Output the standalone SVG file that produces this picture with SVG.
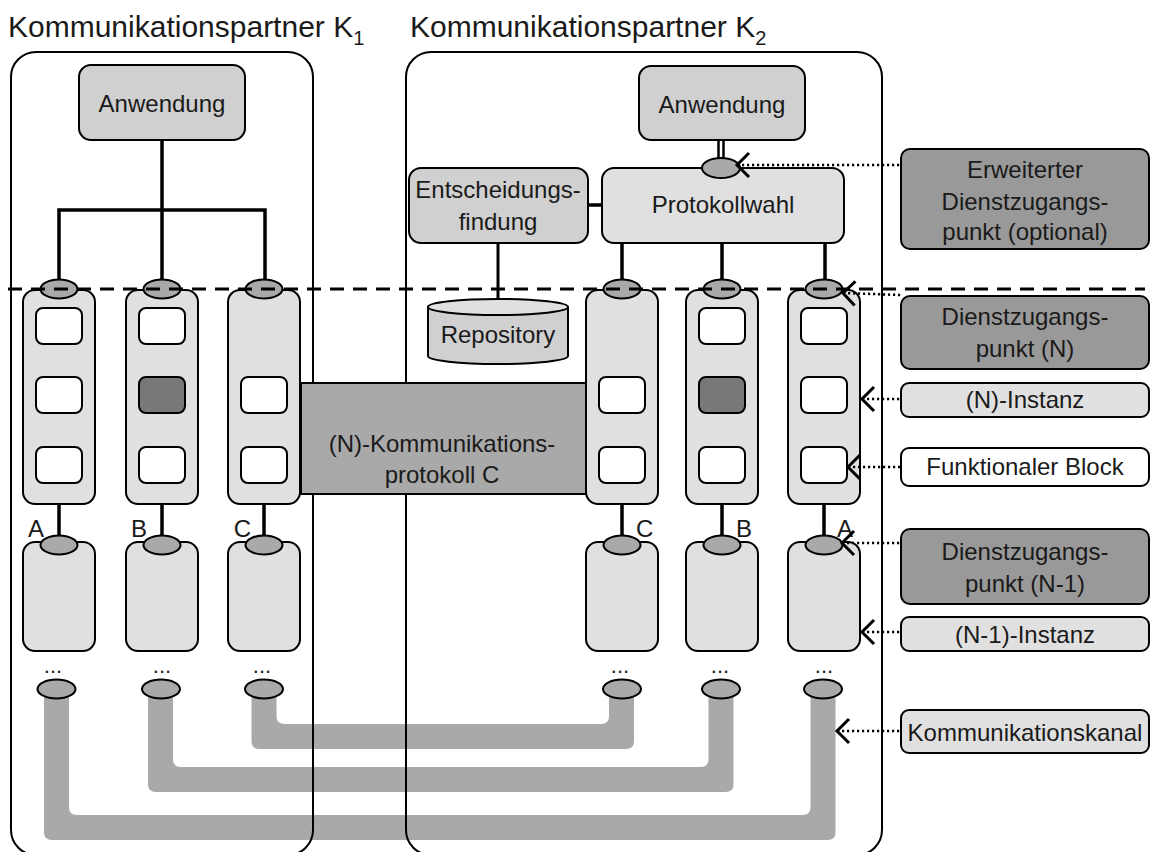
<svg xmlns="http://www.w3.org/2000/svg" width="1155" height="852" viewBox="0 0 1155 852">
<style>
text{font-family:"Liberation Sans",Arial,sans-serif;fill:#1a1a1a;font-size:24px}
.c{text-anchor:middle}
.title{font-size:30px}
.sub{font-size:20px}
.box{stroke:#000;stroke-width:2}
.inst{fill:#e0e0e0}
.fb{fill:#fff}
.dark{fill:#787878}
.sap{fill:#a9a9a9;stroke:#000;stroke-width:2}
.app{fill:#d0d0d0}
.leg{fill:#999}
.cont{fill:none;stroke:#000;stroke-width:2}
.ln{stroke:#000;stroke-width:3.5;fill:none}
.ln2{stroke:#000;stroke-width:2.5;fill:none}
.chan{fill:#a9a9a9;stroke:none}
.dot{stroke:#000;stroke-width:2.5;stroke-dasharray:2.2 2.8;fill:none;marker-start:url(#chev)}
.dash{stroke:#000;stroke-width:3;stroke-dasharray:14 9;fill:none}
</style>
<defs>
<marker id="chev" markerUnits="userSpaceOnUse" markerWidth="20" markerHeight="30" refX="0" refY="0" orient="auto" overflow="visible">
<path d="M12,-12 L0,0 L12,12" fill="none" stroke="#000" stroke-width="3"/>
</marker>
</defs>

<g id="channels">
<path class="chan" d="M44,689 V832 Q44,840 52,840 H827.5 Q835.5,840 835.5,832 V689 H810.5 V807 Q810.5,815 802.5,815 H77 Q69,815 69,807 V689 Z"/>
<path class="chan" d="M148,689 V784 Q148,792 156,792 H725.5 Q733.5,792 733.5,784 V689 H708.5 V759 Q708.5,767 700.5,767 H181 Q173,767 173,759 V689 Z"/>
<path class="chan" d="M251.5,689 V741 Q251.5,749 259.5,749 H626 Q634,749 634,741 V689 H609 V716 Q609,724 601,724 H284.5 Q276.5,724 276.5,716 V689 Z"/>
</g>

<g id="K1">
<rect class="cont" x="11" y="52" width="302" height="803" rx="25"/>
<text class="title" x="8" y="37">Kommunikationspartner K<tspan class="sub" dy="8">1</tspan></text>
</g>
<g id="K2">
<rect class="cont" x="406" y="52" width="476" height="803" rx="25"/>
<text class="title" x="410" y="37">Kommunikationspartner K<tspan class="sub" dy="8">2</tspan></text>
</g>

<g id="connectors">
<path class="ln" d="M162,140 V289 M59,289 V210 H265 V289"/>
<path class="ln" d="M59,504 V545 M162,504 V545 M264,504 V545 M622,504 V545 M722,504 V545 M824,504 V545"/>
<path class="ln2" d="M718.5,140 V165 M723.5,140 V165"/>
<path class="ln" d="M588,205 H602 M622,243 V289 M722,243 V289 M825,243 V289"/>
<path class="ln" d="M498,243 V300" style="stroke-width:3"/>
</g>

<g id="protocol">
<rect class="box" x="301" y="383" width="285" height="111" fill="#a9a9a9"/>
<text class="c" x="442" y="452">(N)-Kommunikations-</text>
<text class="c" x="442" y="483">protokoll C</text>
</g>

<g id="app1">
<rect class="box app" x="79" y="65" width="166" height="75" rx="12"/>
<text class="c" x="162" y="112">Anwendung</text>
</g>
<g id="app2">
<rect class="box app" x="639" y="66" width="166" height="74" rx="12"/>
<text class="c" x="722" y="113">Anwendung</text>
</g>
<g id="entscheidung">
<rect class="box app" x="409" y="168" width="179" height="75" rx="12"/>
<text class="c" x="498" y="198">Entscheidungs-</text>
<text class="c" x="498" y="230">findung</text>
</g>
<g id="protokollwahl">
<rect class="box inst" x="602" y="168" width="242" height="75" rx="12"/>
<text class="c" x="723" y="213">Protokollwahl</text>
<ellipse class="sap" cx="721" cy="168" rx="19" ry="10"/>
</g>
<g id="repository">
<path class="box" d="M428,307 V356 A70,8 0 0 0 568,356 V307 Z" fill="#d0d0d0"/>
<ellipse class="box" cx="498" cy="307" rx="70" ry="8" fill="#e0e0e0"/>
<text class="c" x="498" y="343">Repository</text>
</g>

<!-- K1 columns -->
<g id="k1-colA">
<rect class="box inst" x="23" y="290" width="72" height="214" rx="12"/>
<rect class="box fb" x="36" y="308" width="46" height="36" rx="7"/>
<rect class="box fb" x="36" y="377" width="46" height="36" rx="7"/>
<rect class="box fb" x="36" y="447" width="46" height="36" rx="7"/>
<ellipse class="sap" cx="59" cy="289" rx="18.5" ry="9.5"/>
<rect class="box inst" x="23" y="542" width="72" height="109" rx="12"/>
<ellipse class="sap" cx="59" cy="545" rx="18.5" ry="9.5"/>
<text x="44" y="537" text-anchor="end">A</text>
<text class="c" x="53" y="673" style="font-size:22px">...</text>
<ellipse class="sap" cx="56.5" cy="689" rx="19" ry="9.5"/>
</g>
<g id="k1-colB">
<rect class="box inst" x="126" y="290" width="72" height="214" rx="12"/>
<rect class="box fb" x="139" y="308" width="46" height="36" rx="7"/>
<rect class="box dark" x="139" y="377" width="46" height="36" rx="7"/>
<rect class="box fb" x="139" y="447" width="46" height="36" rx="7"/>
<ellipse class="sap" cx="162" cy="289" rx="18.5" ry="9.5"/>
<rect class="box inst" x="126" y="542" width="72" height="109" rx="12"/>
<ellipse class="sap" cx="162" cy="545" rx="18.5" ry="9.5"/>
<text x="147" y="537" text-anchor="end">B</text>
<text class="c" x="162" y="673" style="font-size:22px">...</text>
<ellipse class="sap" cx="161" cy="689" rx="19" ry="9.5"/>
</g>
<g id="k1-colC">
<rect class="box inst" x="228" y="290" width="72" height="214" rx="12"/>
<rect class="box fb" x="241" y="377" width="46" height="36" rx="7"/>
<rect class="box fb" x="241" y="447" width="46" height="36" rx="7"/>
<ellipse class="sap" cx="264" cy="289" rx="18.5" ry="9.5"/>
<rect class="box inst" x="228" y="542" width="72" height="109" rx="12"/>
<ellipse class="sap" cx="264" cy="545" rx="18.5" ry="9.5"/>
<text x="251" y="537" text-anchor="end">C</text>
<text class="c" x="262" y="673" style="font-size:22px">...</text>
<ellipse class="sap" cx="264" cy="689" rx="19" ry="9.5"/>
</g>

<!-- K2 columns -->
<g id="k2-colC">
<rect class="box inst" x="586" y="290" width="72" height="214" rx="12"/>
<rect class="box fb" x="599" y="377" width="46" height="36" rx="7"/>
<rect class="box fb" x="599" y="447" width="46" height="36" rx="7"/>
<ellipse class="sap" cx="622" cy="289" rx="18.5" ry="9.5"/>
<rect class="box inst" x="586" y="542" width="72" height="109" rx="12"/>
<ellipse class="sap" cx="622" cy="545" rx="18.5" ry="9.5"/>
<text x="636" y="537">C</text>
<text class="c" x="620" y="673" style="font-size:22px">...</text>
<ellipse class="sap" cx="622" cy="689" rx="19" ry="9.5"/>
</g>
<g id="k2-colB">
<rect class="box inst" x="686" y="290" width="72" height="214" rx="12"/>
<rect class="box fb" x="699" y="308" width="46" height="36" rx="7"/>
<rect class="box dark" x="699" y="377" width="46" height="36" rx="7"/>
<rect class="box fb" x="699" y="447" width="46" height="36" rx="7"/>
<ellipse class="sap" cx="722" cy="289" rx="18.5" ry="9.5"/>
<rect class="box inst" x="686" y="542" width="72" height="109" rx="12"/>
<ellipse class="sap" cx="722" cy="545" rx="18.5" ry="9.5"/>
<text x="736" y="537">B</text>
<text class="c" x="720" y="673" style="font-size:22px">...</text>
<ellipse class="sap" cx="721" cy="689" rx="19" ry="9.5"/>
</g>
<g id="k2-colA">
<rect class="box inst" x="788" y="290" width="72" height="214" rx="12"/>
<rect class="box fb" x="801" y="308" width="46" height="36" rx="7"/>
<rect class="box fb" x="801" y="377" width="46" height="36" rx="7"/>
<rect class="box fb" x="801" y="447" width="46" height="36" rx="7"/>
<ellipse class="sap" cx="824" cy="289" rx="18.5" ry="9.5"/>
<rect class="box inst" x="788" y="542" width="72" height="109" rx="12"/>
<ellipse class="sap" cx="824" cy="545" rx="18.5" ry="9.5"/>
<text x="837" y="537">A</text>
<text class="c" x="824" y="673" style="font-size:22px">...</text>
<ellipse class="sap" cx="823" cy="689" rx="19" ry="9.5"/>
</g>

<g id="layer-line">
<path class="dash" d="M8,289 H1145"/>
</g>

<!-- legend -->
<g id="leg-erw">
<rect class="box leg" x="901" y="149" width="248" height="100" rx="9"/>
<text class="c" x="1025" y="178">Erweiterter</text>
<text class="c" x="1025" y="210">Dienstzugangs-</text>
<text class="c" x="1025" y="240">punkt (optional)</text>
</g>
<g id="leg-sapn">
<rect class="box leg" x="901" y="296" width="248" height="73" rx="9"/>
<text class="c" x="1025" y="325">Dienstzugangs-</text>
<text class="c" x="1025" y="357">punkt (N)</text>
</g>
<g id="leg-ninst">
<rect class="box inst" x="901" y="383" width="248" height="34" rx="8"/>
<text class="c" x="1025" y="408">(N)-Instanz</text>
</g>
<g id="leg-fb">
<rect class="box fb" x="901" y="448" width="248" height="38" rx="8"/>
<text class="c" x="1025" y="475">Funktionaler Block</text>
</g>
<g id="leg-sapn1">
<rect class="box leg" x="901" y="529" width="248" height="75" rx="9"/>
<text class="c" x="1025" y="560">Dienstzugangs-</text>
<text class="c" x="1025" y="592">punkt (N-1)</text>
</g>
<g id="leg-n1inst">
<rect class="box inst" x="901" y="617" width="248" height="34" rx="8"/>
<text class="c" x="1025" y="643">(N-1)-Instanz</text>
</g>
<g id="leg-kanal">
<rect class="box inst" x="901" y="710" width="248" height="43" rx="8"/>
<text class="c" x="1025" y="741">Kommunikationskanal</text>
</g>

<g id="pointers">
<path class="dot" d="M737,165 H901"/>
<path class="dot" d="M843,293 L901,295"/>
<path class="dot" d="M862,399 H901"/>
<path class="dot" d="M848,467 H901"/>
<path class="dot" d="M842,543 H901"/>
<path class="dot" d="M862,632 H901"/>
<path class="dot" d="M837,731 H901"/>
</g>
</svg>
